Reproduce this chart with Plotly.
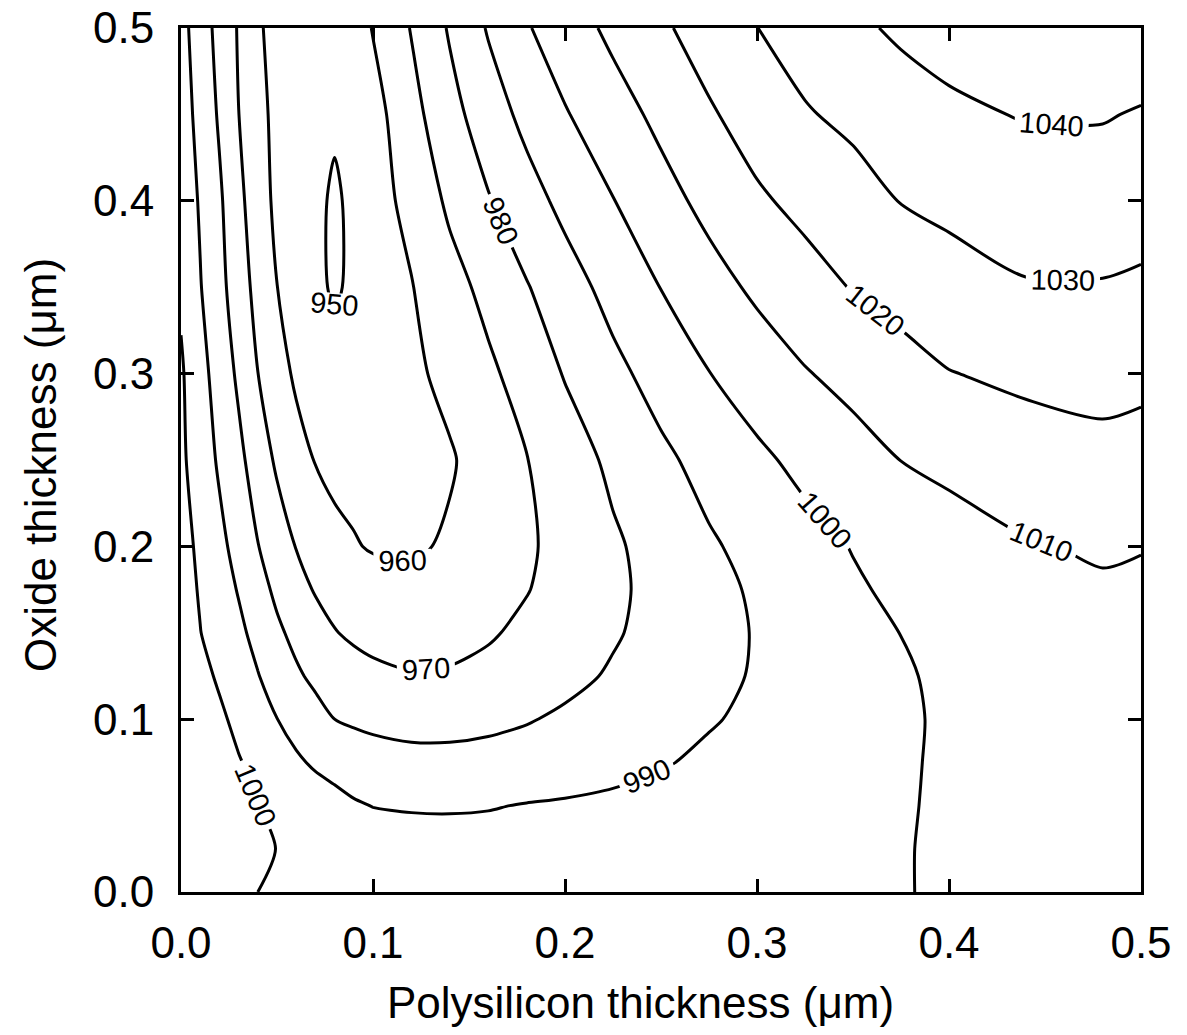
import plotly.graph_objects as go

# Polysilicon thickness (um) grid nodes
poly_x = [0, 0.01, 0.02, 0.03, 0.04, 0.05, 0.06, 0.07, 0.08, 0.09, 0.1, 0.12, 0.14, 0.16, 0.18,
          0.2, 0.225, 0.25, 0.275, 0.3, 0.325, 0.35, 0.375, 0.4, 0.44, 0.48, 0.5]
# Oxide thickness (um) grid nodes
oxide_y = [0, 0.025, 0.05, 0.075, 0.1, 0.125, 0.15, 0.175, 0.2, 0.25, 0.3, 0.35, 0.4, 0.45, 0.5]

# response values, one row per oxide thickness
row_000 = [1005.5, 1004.3, 1003, 1001.5, 1000, 998.8, 997.9, 997.2, 996.6, 996.1, 995.8, 995.4, 995.3, 995.4, 995.7, 996, 996.5, 997, 997.5, 998, 998.5, 999, 999.6, 1001, 1002.8, 1004.7, 1005]
row_025 = [1006, 1005, 1003.8, 1002.5, 1001.2, 999.9, 998.6, 997.4, 996.3, 995.3, 994.5, 993.6, 993.4, 993.6, 994, 994.5, 995.1, 995.8, 996.5, 997.2, 997.9, 998.7, 999.6, 1001, 1003, 1004.8, 1005.2]
row_050 = [1006.5, 1005.5, 1004, 1002.4, 1000.2, 998.3, 996.5, 994.6, 992.8, 990.9, 989.8, 989.3, 989.2, 989.5, 990.4, 991, 992, 993, 994, 995.2, 996.4, 997.8, 999.4, 1001, 1003.3, 1005, 1005.5]
row_075 = [1006.5, 1005, 1003.5, 1000.6, 997.5, 994.4, 991.3, 988.8, 987, 985.5, 984.3, 982.8, 982.6, 983, 984, 985.2, 987, 989.3, 991.6, 993.5, 995.4, 997.3, 999.2, 1001, 1003.5, 1005.5, 1006]
row_100 = [1006, 1004, 1001.6, 997.8, 993.9, 990.1, 986.7, 983.3, 980, 978.6, 977.6, 976.8, 977, 978, 979.4, 981.4, 984, 986.6, 989.3, 991.7, 994.1, 996.4, 998.8, 1001.2, 1004, 1006, 1006.5]
row_125 = [1005.5, 1002.6, 998.8, 994.6, 990.4, 985.9, 981.4, 978, 975.5, 973.5, 972, 970.6, 971, 972.5, 974.8, 977.6, 981, 984.3, 987.6, 990.8, 993.6, 996.3, 999.1, 1001.6, 1005, 1007, 1007.3]
row_150 = [1004.2, 1000.2, 996.1, 992, 987.2, 981.7, 977.5, 973.9, 970.4, 968.5, 967.3, 966, 966.8, 969, 972, 975.2, 979.1, 983, 986.9, 990.6, 993.8, 997, 1000.1, 1002.3, 1005.5, 1007.6, 1008]
row_175 = [1004, 999.2, 994.3, 989.4, 983.5, 978.1, 973.3, 969.3, 967, 965, 963.5, 962.3, 963.5, 966, 969.6, 973.5, 978.3, 982.8, 987.2, 991.3, 995.1, 998.8, 1001.9, 1004, 1007.5, 1009, 1008.8]
row_200 = [1003.5, 998.1, 992.4, 986.8, 980.3, 974.9, 969.7, 966.7, 962.5, 960.6, 959.3, 958.5, 961.3, 965, 968.7, 973, 978.6, 983.8, 988.8, 993, 996.9, 1000.4, 1002.6, 1004.8, 1009.3, 1011, 1010.3]
row_250 = [1001.8, 995.2, 988.7, 982.4, 975.3, 968.5, 963.5, 959.6, 957.5, 957.3, 957, 957.8, 959, 964.6, 969.7, 975.3, 982, 988, 993.3, 998.2, 1002.4, 1006.2, 1010.1, 1012.8, 1015.5, 1017.1, 1016.2]
row_300 = [1001.2, 993.3, 985.9, 978.3, 970.1, 963.75, 958.5, 956.5, 955, 955, 955.8, 958, 962.7, 968.1, 974.2, 980.6, 987.5, 993.8, 999.8, 1004.6, 1009.4, 1013, 1016.4, 1019.7, 1021.9, 1023.2, 1022.4]
row_350 = [998.5, 990.5, 983, 974.8, 966.9, 960.1, 956, 953.5, 948, 953, 955, 959.6, 966.3, 972.9, 979.4, 985.8, 993.3, 1000.2, 1006.3, 1011.8, 1016.3, 1020.5, 1023.5, 1026, 1029.3, 1029.4, 1028.6]
row_400 = [996.5, 989, 981.5, 972.6, 964.3, 958, 955.5, 953, 948, 953, 956.5, 962.5, 971.9, 979.3, 986.2, 992.6, 999.7, 1006.5, 1012.8, 1018.6, 1022.6, 1026.1, 1030.3, 1032.3, 1035.2, 1035.2, 1033.9]
row_450 = [994.7, 986.9, 978.8, 970.1, 962.9, 957.5, 955, 953.5, 952, 954, 956.3, 966.8, 976.7, 985.2, 992.7, 999.3, 1005.9, 1012.4, 1018.9, 1024.2, 1029.2, 1032.2, 1035.5, 1038.5, 1040.5, 1040.6, 1039.3]
row_500 = [993.3, 985, 976.9, 969.2, 961.2, 957, 955, 954, 953, 955, 960.5, 970.5, 981, 990.8, 999.2, 1005.2, 1012.2, 1018.5, 1024.3, 1029.9, 1034.1, 1038.2, 1041.5, 1043, 1045, 1046, 1046]

z_rows = [row_000, row_025, row_050, row_075, row_100, row_125, row_150, row_175,
          row_200, row_250, row_300, row_350, row_400, row_450, row_500]

tick_vals = [0.0, 0.1, 0.2, 0.3, 0.4, 0.5]
tick_text = ["0.0", "0.1", "0.2", "0.3", "0.4", "0.5"]

FONT = "Arial, Liberation Sans, Helvetica, sans-serif"

fig = go.Figure()
fig.add_trace(go.Contour(
    x=poly_x, y=oxide_y, z=z_rows,
    contours=dict(start=950, end=1040, size=10, coloring="none",
                  showlabels=True,
                  labelfont=dict(family=FONT, size=29, color="black")),
    line=dict(color="black", width=3, smoothing=0.8),
    showscale=False,
    hoverinfo="skip",
))

axis_common = dict(
    range=[0, 0.5], tickvals=tick_vals, ticktext=tick_text,
    ticks="inside", ticklen=13, tickwidth=2.5, tickcolor="black",
    showline=True, linewidth=3, linecolor="black", mirror="ticks",
    showgrid=False, zeroline=False, automargin=False,
    tickfont=dict(family=FONT, size=44, color="black"),
)

fig.update_layout(
    width=1187, height=1035, autosize=False,
    margin=dict(l=181, r=46, t=28, b=143, pad=0),
    paper_bgcolor="white", plot_bgcolor="white",
    xaxis=dict(axis_common, ticklabelstandoff=10),
    yaxis=dict(axis_common, ticklabelstandoff=15),
    showlegend=False,
    annotations=[
        dict(text="Polysilicon thickness (\u03bcm)", xref="paper", yref="paper",
             x=0.479, y=-0.128, xanchor="center", yanchor="middle", showarrow=False,
             font=dict(family=FONT, size=44, color="black")),
        dict(text="Oxide thickness (\u03bcm)", xref="paper", yref="paper",
             x=-0.147, y=0.494, xanchor="center", yanchor="middle", showarrow=False,
             textangle=-90, font=dict(family=FONT, size=44, color="black")),
    ],
)

fig.write_html("out.html")
